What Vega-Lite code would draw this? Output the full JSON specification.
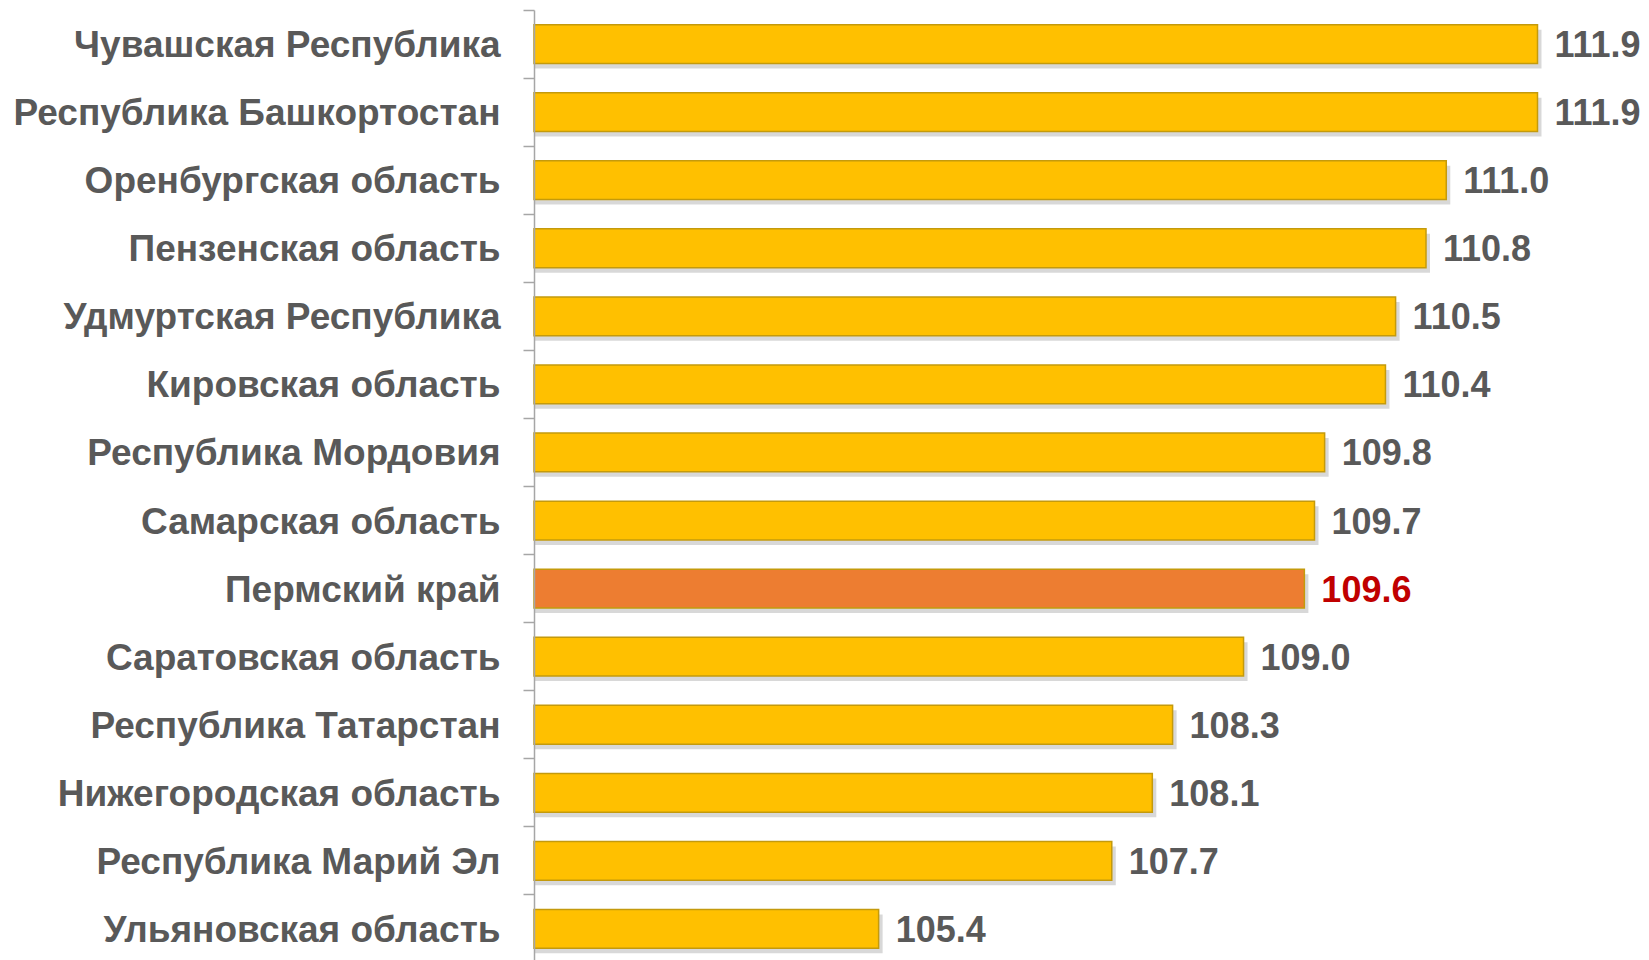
{
  "$schema": "https://vega.github.io/schema/vega-lite/v6.json",
  "autosize": {"type": "none"},
  "padding": {"left": 534, "top": 10, "right": 0, "bottom": 0},
  "width": 1115,
  "height": 953,
  "background": "white",
  "config": {"view": {"stroke": null}, "font": "Liberation Sans"},
  "data": {"values": [
    {"region": "Чувашская Республика", "value": 111.9},
    {"region": "Республика Башкортостан", "value": 111.9},
    {"region": "Оренбургская область", "value": 111.0},
    {"region": "Пензенская область", "value": 110.8},
    {"region": "Удмуртская Республика", "value": 110.5},
    {"region": "Кировская область", "value": 110.4},
    {"region": "Республика Мордовия", "value": 109.8},
    {"region": "Самарская область", "value": 109.7},
    {"region": "Пермский край", "value": 109.6},
    {"region": "Саратовская область", "value": 109.0},
    {"region": "Республика Татарстан", "value": 108.3},
    {"region": "Нижегородская область", "value": 108.1},
    {"region": "Республика Марий Эл", "value": 107.7},
    {"region": "Ульяновская область", "value": 105.4}
  ]},
  "encoding": {
    "y": {
      "field": "region", "type": "nominal", "sort": null,
      "scale": {"paddingInner": 0, "paddingOuter": 0},
      "axis": {
        "title": null, "bandPosition": 0, "zindex": 1,
        "labelFontSize": 37, "labelFont": "Liberation Sans", "labelFontWeight": "bold",
        "labelColor": "#595959", "labelPadding": 23, "labelLimit": 600, "labelBaseline": "middle", "labelOffset": 2,
        "tickSize": 11, "tickColor": "#a6a6a6", "tickWidth": 1.5,
        "domainColor": "#a6a6a6", "domainWidth": 1.5
      }
    },
    "x": {
      "field": "value", "type": "quantitative",
      "scale": {"domain": [102, 113], "zero": false, "nice": false},
      "axis": null
    }
  },
  "layer": [
    {
      "mark": {"type": "bar", "height": {"band": 0.57}, "color": "#7f7f7f", "opacity": 0.3, "xOffset": 4, "yOffset": 5},
      "encoding": {"x2": {"datum": 102}}
    },
    {
      "mark": {"type": "bar", "height": {"band": 0.57}, "stroke": "#c49a0c", "strokeWidth": 1.5},
      "encoding": {
        "x2": {"datum": 102},
        "color": {
          "condition": {"test": "datum.region === 'Пермский край'", "value": "#ed7d31"},
          "value": "#ffc000"
        }
      }
    },
    {
      "mark": {"type": "text", "align": "left", "baseline": "middle", "dx": 17, "dy": 2, "fontSize": 36, "fontWeight": "bold", "font": "Liberation Sans"},
      "encoding": {
        "text": {"field": "value", "type": "quantitative", "format": ".1f"},
        "color": {
          "condition": {"test": "datum.region === 'Пермский край'", "value": "#c00000"},
          "value": "#595959"
        }
      }
    }
  ]
}
